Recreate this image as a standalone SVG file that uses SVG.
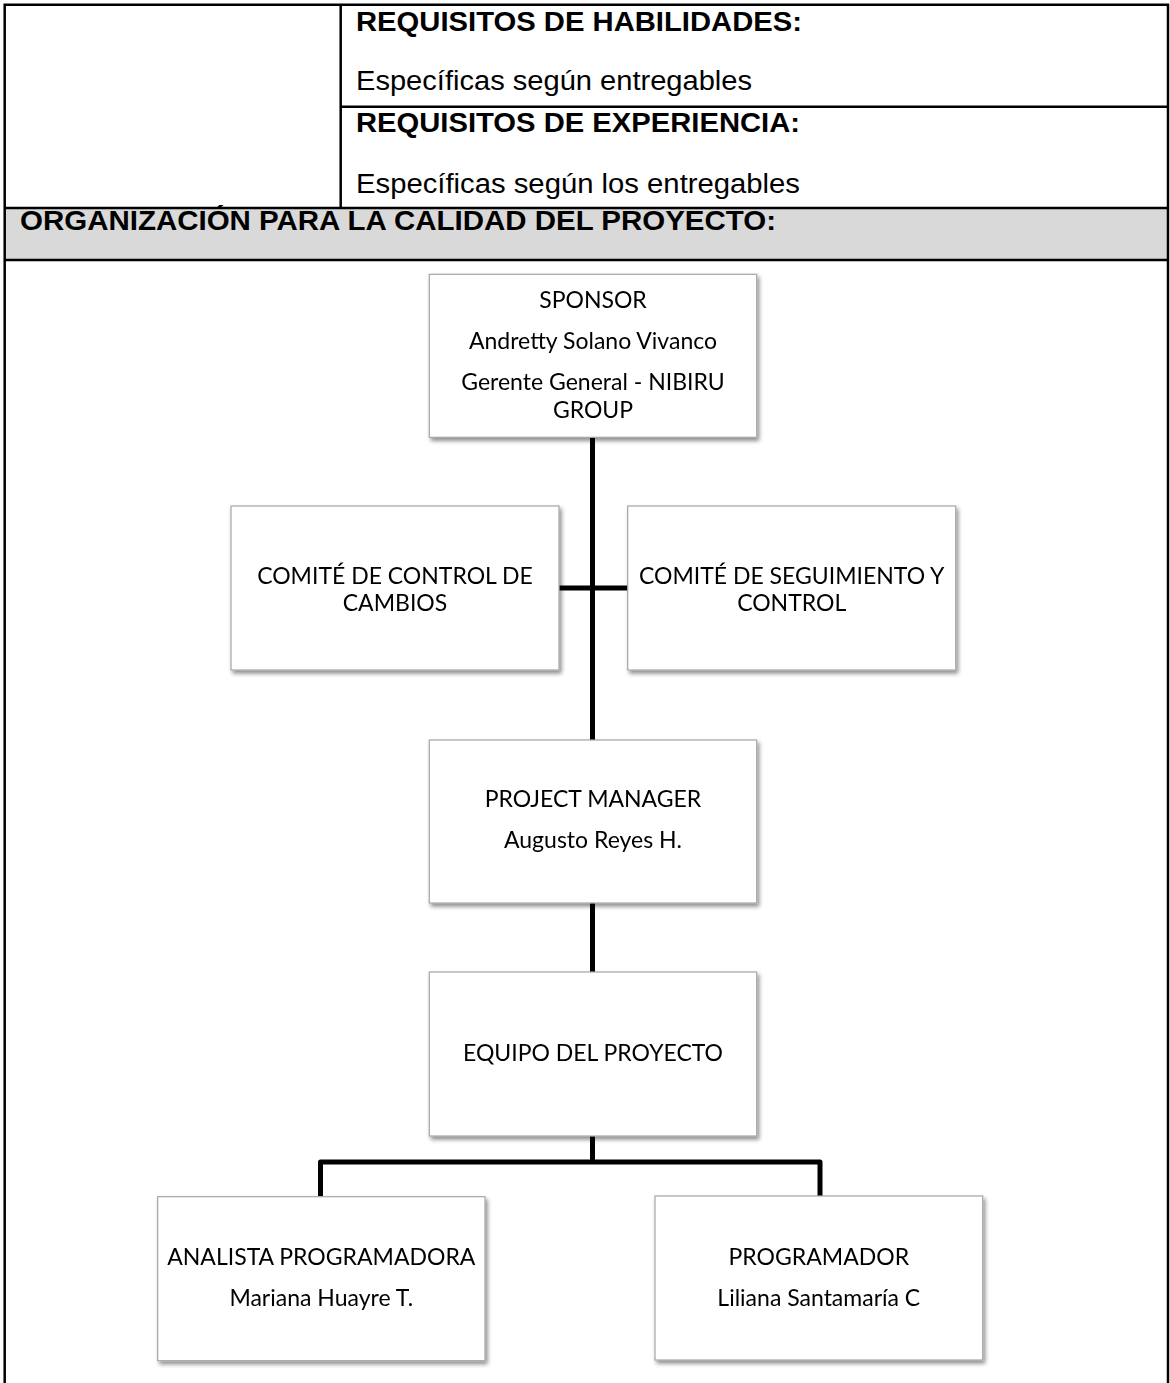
<svg xmlns="http://www.w3.org/2000/svg" width="1170" height="1383" viewBox="0 0 1170 1383">
  <style>
    .grid { stroke: #000; stroke-width: 2.5; fill: none; }
    .head { font-family: "Liberation Sans", Arial, sans-serif; font-weight: bold; font-size: 27px; fill: #000; }
    .body { font-family: "Liberation Sans", Arial, sans-serif; font-size: 27px; fill: #000; }
    .box { fill: #fff; stroke: #a6a6a6; stroke-width: 1.2; }
    .lbl { font-family: Lato, "Open Sans", sans-serif; font-size: 23px; fill: #000; text-anchor: middle; }
    .wire { stroke: #000; stroke-width: 5; fill: none; stroke-linejoin: round; }
  </style>
  <defs>
    <filter id="shadow" x="-5%" y="-5%" width="115%" height="120%">
      <feGaussianBlur in="SourceAlpha" stdDeviation="2"/>
      <feOffset dx="2" dy="3" result="b"/>
      <feComponentTransfer><feFuncA type="linear" slope="0.45"/></feComponentTransfer>
      <feMerge><feMergeNode/><feMergeNode in="SourceGraphic"/></feMerge>
    </filter>
  </defs>

  <rect width="1170" height="1383" fill="#fff"/>

  <!-- requirements table -->
  <g id="table">
    <rect x="4.7" y="208" width="1163.3" height="52" fill="#d9d9d9"/>
    <path class="grid" d="M4.7 1383 V4.7 H1168 V1383"/>
    <path class="grid" d="M340.7 4.7 V208"/>
    <path class="grid" d="M340.7 106.7 H1168"/>
    <path class="grid" d="M4.7 208 H1168 M4.7 260 H1168"/>
    <text class="head" x="356" y="31" textLength="446" lengthAdjust="spacingAndGlyphs">REQUISITOS DE HABILIDADES:</text>
    <text class="body" x="356" y="90" textLength="396" lengthAdjust="spacingAndGlyphs">Específicas según entregables</text>
    <text class="head" x="356" y="132" textLength="444" lengthAdjust="spacingAndGlyphs">REQUISITOS DE EXPERIENCIA:</text>
    <text class="body" x="356" y="193" textLength="444" lengthAdjust="spacingAndGlyphs">Específicas según los entregables</text>
    <text class="head" x="20" y="230" textLength="756" lengthAdjust="spacingAndGlyphs">ORGANIZACIÓN PARA LA CALIDAD DEL PROYECTO:</text>
  </g>

  <!-- connectors -->
  <g id="connectors">
    <path class="wire" d="M592.5 437 V740"/>
    <path class="wire" d="M559 588 H628"/>
    <path class="wire" d="M592.5 903 V972"/>
    <path class="wire" d="M592.5 1136 V1162"/>
    <path class="wire" d="M320.5 1196 V1162 H820 V1196"/>
  </g>

  <g id="sponsor" filter="url(#shadow)">
    <rect class="box" x="429.3" y="274.3" width="327.4" height="163"/>
    <text class="lbl" x="593" y="308">SPONSOR</text>
    <text class="lbl" x="593" y="349">Andretty Solano Vivanco</text>
    <text class="lbl" x="593" y="390">Gerente General - NIBIRU</text>
    <text class="lbl" x="593" y="418">GROUP</text>
  </g>

  <g id="comite-cambios" filter="url(#shadow)">
    <rect class="box" x="231" y="506" width="328" height="164"/>
    <text class="lbl" x="395" y="584">COMITÉ DE CONTROL DE</text>
    <text class="lbl" x="395" y="611">CAMBIOS</text>
  </g>

  <g id="comite-seguimiento" filter="url(#shadow)">
    <rect class="box" x="627.7" y="506" width="328" height="164"/>
    <text class="lbl" x="791.7" y="584">COMITÉ DE SEGUIMIENTO Y</text>
    <text class="lbl" x="791.7" y="611">CONTROL</text>
  </g>

  <g id="project-manager" filter="url(#shadow)">
    <rect class="box" x="429.3" y="740" width="327.4" height="163"/>
    <text class="lbl" x="593" y="807">PROJECT MANAGER</text>
    <text class="lbl" x="593" y="848">Augusto Reyes H.</text>
  </g>

  <g id="equipo" filter="url(#shadow)">
    <rect class="box" x="429.3" y="972" width="327.4" height="164"/>
    <text class="lbl" x="593" y="1061">EQUIPO DEL PROYECTO</text>
  </g>

  <g id="analista" filter="url(#shadow)">
    <rect class="box" x="157.7" y="1196.7" width="327.3" height="164"/>
    <text class="lbl" x="321.3" y="1265">ANALISTA PROGRAMADORA</text>
    <text class="lbl" x="321.3" y="1306">Mariana Huayre T.</text>
  </g>

  <g id="programador" filter="url(#shadow)">
    <rect class="box" x="655" y="1196" width="327.7" height="164"/>
    <text class="lbl" x="818.8" y="1265">PROGRAMADOR</text>
    <text class="lbl" x="818.8" y="1306">Liliana Santamaría C</text>
  </g>
</svg>
